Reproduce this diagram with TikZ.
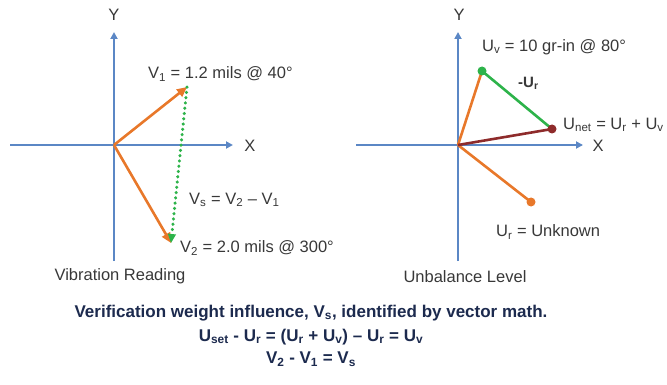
\documentclass[tikz,border=0pt]{standalone}
\usepackage{fontspec}
\setmainfont{Liberation Sans}
\usetikzlibrary{arrows.meta,calc}
\definecolor{axisblue}{HTML}{5B87C5}
\definecolor{vorange}{HTML}{E8782A}
\definecolor{vgreen}{HTML}{2DB34A}
\definecolor{vred}{HTML}{8E2B2B}
\definecolor{txtgray}{HTML}{383838}
\definecolor{navy}{HTML}{1C2A4E}
\newcommand{\sbs}[1]{\textsubscript{#1}}
\tikzset{
  axis/.style={draw=axisblue, line width=1.8pt, -{Triangle[length=7pt,width=7pt]}},
  vec/.style={draw=vorange, line width=2.6pt, -{Triangle[length=10pt,width=9pt]}},
  seg/.style={line width=2.6pt},
  dotend/.style={circle, inner sep=0pt, minimum size=9pt},
  lbl/.style={font=\fontsize{16.5}{19}\selectfont, text=txtgray, inner sep=1pt},
  foot/.style={font=\bfseries\fontsize{17}{20}\selectfont, text=navy, inner sep=1pt}
}
\begin{document}
\begin{tikzpicture}[x=1pt,y=-1pt]
\useasboundingbox (0,0) rectangle (667,385);
% ---- left diagram ----
\coordinate (o1) at (114,145);
\coordinate (l1) at (10,145);
\coordinate (r1) at (233,145);
\coordinate (b1) at (114,261);
\coordinate (t1) at (114,32);
\draw[axis] (l1) -- (r1);
\draw[axis] (b1) -- (t1);
\node[lbl] (y1) at (114,15) {Y};
\node[lbl] (x1) at (250,146) {X};
\coordinate (v1) at (187,87);
\coordinate (v2) at (171,243);
\draw[vec] (o1) -- (v1);
\draw[vec] (o1) -- (v2);
\coordinate (vsend) at ($(v2)!9pt!(v1)$);
\draw[draw=vgreen, line width=3.2pt, dash pattern=on 0.3pt off 5pt, line cap=round] (v1) -- (vsend);
\draw[draw=vgreen, line width=1pt, -{Triangle[length=9pt,width=8pt]}] (vsend) -- (v2);
\node[lbl, anchor=west] (v1l) at (147,74) {V\sbs{1} = 1.2 mils @ 40°};
\node[lbl, anchor=west] (vsl) at (188,200) {V\sbs{s} = V\sbs{2} – V\sbs{1}};
\node[lbl, anchor=west] (v2l) at (179,248) {V\sbs{2} = 2.0 mils @ 300°};
\node[lbl] (vr) at (120,276) {Vibration Reading};
% ---- right diagram ----
\coordinate (o2) at (458,145);
\coordinate (l2) at (356,145);
\coordinate (r2) at (583,145);
\coordinate (b2) at (458,261);
\coordinate (t2) at (458,32);
\draw[axis] (l2) -- (r2);
\draw[axis] (b2) -- (t2);
\node[lbl] (y2) at (459,15) {Y};
\node[lbl] (x2) at (598,146) {X};
\coordinate (uv) at (482,71);
\coordinate (un) at (552,129);
\coordinate (ur) at (531,202);
\draw[seg, vorange] (o2) -- (uv);
\draw[seg, vorange] (o2) -- (ur);
\draw[seg, vgreen] (uv) -- (un);
\draw[seg, vred] (o2) -- (un);
\node[dotend, fill=vgreen] (uvd) at (uv) {};
\node[dotend, fill=vred] (und) at (un) {};
\node[dotend, fill=vorange] (urd) at (ur) {};
\node[lbl, anchor=west] (uvl) at (481,47) {U\sbs{v} = 10 gr-in @ 80°};
\node[lbl, anchor=west, font=\bfseries\fontsize{15}{18}\selectfont] (mur) at (517,83) {-U\sbs{r}};
\node[lbl, anchor=west] (unl) at (562,125) {U\sbs{net} = U\sbs{r} + U\sbs{v}};
\node[lbl, anchor=west] (url) at (495,232) {U\sbs{r} = Unknown};
\node[lbl] (ubl) at (465,277) {Unbalance Level};
% ---- footer ----
\node[foot] (f1) at (311,313) {Verification weight influence, V\sbs{s}, identified by vector math.};
\node[foot] (f2) at (311,337) {U\sbs{set} - U\sbs{r} = (U\sbs{r} + U\sbs{v}) – U\sbs{r} = U\sbs{v}};
\node[foot] (f3) at (311,359) {V\sbs{2} - V\sbs{1} = V\sbs{s}};
\end{tikzpicture}
\end{document}
